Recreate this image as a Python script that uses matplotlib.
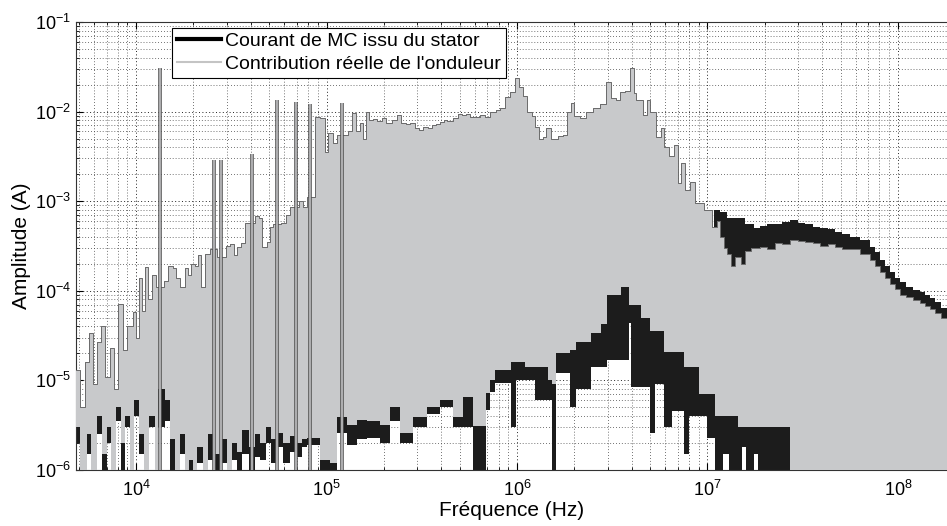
import numpy as np
import matplotlib
matplotlib.use("Agg")
import matplotlib.pyplot as plt
from matplotlib.lines import Line2D
from matplotlib.ticker import LogLocator, NullFormatter

plt.rcParams['font.family'] = ['Liberation Sans', 'DejaVu Sans']

# Upper envelope of the inverter contribution (Hz, A)
f_top = [4.84e3, 5.1e3, 5.4e3, 5.65e3, 5.95e3, 6.25e3, 6.55e3, 6.9e3, 7.3e3, 7.7e3, 8.05e3, 8.5e3, 9.0e3, 9.6e3,
         1.0e4, 1.04e4, 1.08e4, 1.11e4, 1.16e4, 1.21e4, 1.27e4, 1.4e4, 1.48e4, 1.56e4, 1.63e4, 1.7e4, 1.8e4, 1.87e4,
         1.95e4, 2.04e4, 2.12e4, 2.2e4, 2.3e4, 2.45e4, 2.65e4, 2.95e4, 3.1e4, 3.25e4, 3.4e4, 3.55e4, 3.75e4, 4.2e4,
         4.4e4, 4.6e4, 4.85e4, 5.05e4, 5.25e4, 5.8e4, 6.1e4, 6.4e4, 7.2e4, 7.5e4, 7.85e4, 8.7e4, 9.2e4, 9.8e4,
         1.02e5, 1.08e5, 1.13e5, 1.3e5, 1.36e5, 1.43e5, 1.5e5, 1.55e5, 1.61e5, 1.68e5, 1.75e5, 1.85e5, 1.95e5, 2.05e5,
         2.2e5, 2.34e5, 2.45e5, 2.6e5, 2.74e5, 2.9e5, 3.05e5, 3.21e5, 3.4e5, 3.58e5, 3.75e5, 3.94e5, 4.15e5, 4.3e5,
         4.61e5, 4.9e5, 5.14e5, 5.4e5, 5.66e5, 6.0e5, 6.39e5, 6.8e5, 7.2e5, 7.76e5, 8.15e5, 8.65e5, 9.19e5, 9.77e5,
         1.02e6, 1.07e6, 1.13e6, 1.2e6, 1.24e6, 1.3e6, 1.37e6, 1.42e6, 1.5e6, 1.64e6, 1.75e6, 1.83e6, 1.92e6, 2.0e6,
         2.14e6, 2.3e6, 2.51e6, 2.73e6, 2.93e6, 3.1e6, 3.3e6, 3.47e6, 3.69e6, 3.92e6, 4.1e6, 4.22e6, 4.59e6, 4.8e6,
         5.0e6, 5.37e6, 5.7e6, 5.91e6, 6.3e6, 6.7e6, 7.0e6, 7.3e6, 7.6e6, 8.1e6, 8.6e6, 9.14e6, 9.6e6,
         1.0e7, 1.06e7, 1.12e7, 1.16e7, 1.22e7, 1.27e7, 1.33e7, 1.39e7, 1.5e7, 1.57e7, 1.7e7, 1.89e7, 2.05e7, 2.26e7,
         2.45e7, 2.71e7, 3.0e7, 3.25e7, 3.6e7, 3.9e7, 4.3e7, 4.67e7, 5.1e7, 5.6e7, 6.3e7, 7.1e7, 7.6e7, 8.05e7,
         8.6e7, 9.1e7, 9.6e7, 1.02e8, 1.1e8, 1.2e8, 1.3e8, 1.39e8, 1.47e8, 1.56e8, 1.68e8, 1.81e8, 2.0e8]
inv_top = [1.3e-5, 5e-6, 1.6e-5, 3.4e-5, 9e-6, 2.7e-5, 4e-5, 1.1e-5, 2.3e-5, 8e-6, 7.2e-5, 2.2e-5, 4e-5, 5.8e-5,
           3e-5, 1.4e-4, 6e-5, 1.85e-4, 8e-5, 1.5e-4, 1.1e-4, 1.3e-4, 1.9e-4, 1.8e-4, 1.4e-4, 1.1e-4, 1.8e-4, 1.5e-4,
           2e-4, 1.9e-4, 2.5e-4, 1.1e-4, 2.6e-4, 2.9e-4, 2.4e-4, 3.2e-4, 3.3e-4, 2.5e-4, 3.1e-4, 3.4e-4, 5.7e-4, 6.8e-4,
           6.5e-4, 3.1e-4, 3.5e-4, 5.2e-4, 5.5e-4, 5.7e-4, 7e-4, 8.6e-4, 1.0e-3, 8.6e-4, 1.1e-3, 8.7e-3, 8.5e-3, 3.5e-3,
           5.8e-3, 4.5e-3, 5.5e-3, 6e-3, 9.7e-3, 6e-3, 7.5e-3, 5e-3, 1.0e-2, 8e-3, 8.3e-3, 7.8e-3, 8.5e-3, 7.5e-3,
           8e-3, 9.1e-3, 7.5e-3, 7.2e-3, 7.5e-3, 6.6e-3, 6.3e-3, 6.8e-3, 6.5e-3, 7e-3, 7.3e-3, 7.6e-3, 8.0e-3, 7.8e-3,
           8.5e-3, 9.5e-3, 9.2e-3, 9.5e-3, 8.8e-3, 8.6e-3, 9.2e-3, 8.8e-3, 9.8e-3, 1.05e-2, 1.1e-2, 1.45e-2, 1.65e-2, 2.4e-2,
           1.9e-2, 1.5e-2, 1.0e-2, 9e-3, 6.7e-3, 5e-3, 5.2e-3, 6.6e-3, 5.0e-3, 5.3e-3, 5.5e-3, 1.0e-2, 1.25e-2, 9e-3,
           8.5e-3, 1.0e-2, 1.1e-2, 1.2e-2, 2.15e-2, 1.4e-2, 1.35e-2, 1.65e-2, 1.7e-2, 3.1e-2, 1.6e-2, 1.35e-2, 9.2e-3, 1.35e-2,
           1.0e-2, 5.2e-3, 6.6e-3, 4.0e-3, 3.2e-3, 4.2e-3, 1.6e-3, 2.7e-3, 1.35e-3, 1.65e-3, 9.5e-4, 9.5e-4, 8e-4,
           8e-4, 5.2e-4, 6e-4, 4e-4, 3.0e-4, 2.6e-4, 1.9e-4, 2.4e-4, 2.0e-4, 2.8e-4, 3.0e-4, 3.1e-4, 2.9e-4, 3.4e-4,
           3.3e-4, 3.7e-4, 3.6e-4, 3.5e-4, 3.4e-4, 3.2e-4, 3.3e-4, 3.1e-4, 2.9e-4, 2.9e-4, 2.6e-4, 2.2e-4, 1.9e-4, 1.6e-4,
           1.4e-4, 1.2e-4, 1.05e-4, 9e-5, 8.5e-5, 7.9e-5, 7.3e-5, 6.8e-5, 6.2e-5, 5.6e-5, 5e-5, 4.3e-5, 4.3e-5]

# Upper envelope of the stator current where it rises above the inverter part (HF)
f_stator_hf = [1.08e7, 1.16e7, 1.27e7, 1.39e7, 1.57e7, 1.75e7, 1.89e7, 2.05e7, 2.26e7, 2.45e7, 2.71e7, 3.0e7, 3.25e7,
               3.6e7, 3.9e7, 4.3e7, 4.67e7, 5.1e7, 5.6e7, 6.3e7, 7.1e7, 7.6e7, 8.05e7, 8.6e7, 9.1e7, 9.6e7, 1.02e8,
               1.1e8, 1.2e8, 1.3e8, 1.39e8, 1.47e8, 1.56e8, 1.68e8, 1.81e8, 2.0e8]
stator_hf = [8e-4, 7.5e-4, 6.5e-4, 6.5e-4, 5.5e-4, 5.0e-4, 5.3e-4, 5.6e-4, 5.5e-4, 5.9e-4, 6.1e-4, 5.7e-4, 5.6e-4,
             5.2e-4, 5.0e-4, 4.9e-4, 4.5e-4, 4.3e-4, 4.0e-4, 3.7e-4, 3.1e-4, 2.7e-4, 2.2e-4, 1.9e-4, 1.6e-4, 1.4e-4, 1.25e-4,
             1.1e-4, 1.03e-4, 9.6e-5, 9e-5, 8.3e-5, 7.5e-5, 6.5e-5, 5.3e-5, 5.3e-5]

# Lower envelopes (1e-7 = below the axis floor)
f_bot = [4.8e3, 5.1e3, 5.5e3, 5.8e3, 6.2e3, 6.6e3, 7.0e3, 7.4e3, 7.8e3, 8.3e3, 8.8e3, 9.3e3, 9.8e3, 1.04e4,
         1.1e4, 1.17e4, 1.25e4, 1.31e4, 1.42e4, 1.5e4, 1.6e4, 1.7e4, 1.8e4, 1.9e4, 2.0e4, 2.1e4, 2.25e4, 2.4e4,
         2.6e4, 2.8e4, 3.0e4, 3.2e4, 3.4e4, 3.6e4, 3.9e4, 4.2e4, 4.5e4, 4.8e4, 5.1e4, 5.5e4, 5.9e4, 6.4e4,
         6.9e4, 7.4e4, 7.9e4, 9.2e4, 1.04e5, 1.13e5, 1.28e5, 1.45e5, 1.63e5, 1.9e5, 2.16e5, 2.44e5, 2.85e5, 3.38e5,
         3.94e5, 4.61e5, 5.2e5, 5.86e5, 6.9e5, 7.2e5, 7.7e5, 9.3e5, 9.9e5, 1.1e6, 1.25e6, 1.45e6, 1.52e6, 1.6e6,
         1.9e6, 2.04e6, 2.45e6, 2.75e6, 2.96e6, 3.5e6, 3.85e6, 3.95e6, 4.5e6, 5.0e6, 5.3e6, 5.9e6, 6.5e6, 7.5e6,
         8.0e6, 9.0e6, 1.0e7, 1.1e7, 1.2e7, 1.3e7, 1.45e7, 1.52e7, 1.6e7, 1.75e7, 1.85e7, 2.1e7, 2.7e7, 2.0e8]
inv_bot = [3e-6, 1e-7, 2.5e-6, 1e-7, 4e-6, 1.5e-6, 3e-6, 1e-7, 5e-6, 2e-6, 4e-6, 1e-7, 6e-6, 2.5e-6,
           1e-7, 4e-6, 1e-7, 8e-6, 6e-6, 2.2e-6, 1e-7, 2.5e-6, 1e-7, 1.3e-6, 1e-7, 1.8e-6, 1e-7, 2.5e-6,
           1.5e-6, 2.2e-6, 1e-7, 2e-6, 1.6e-6, 2.8e-6, 1.8e-6, 2.5e-6, 2e-6, 3e-6, 2.2e-6, 2.6e-6, 2e-6, 2.4e-6,
           2e-6, 2.2e-6, 2.3e-6, 1.3e-6, 1.2e-6, 3.9e-6, 3.2e-6, 3.6e-6, 3.5e-6, 3.2e-6, 5e-6, 2.6e-6, 3.9e-6, 5e-6,
           6e-6, 3.9e-6, 6.5e-6, 3.1e-6, 7.2e-6, 1.0e-5, 1.3e-5, 1.6e-5, 1.6e-5, 1.4e-5, 1.4e-5, 1.0e-5, 9e-6, 2e-5,
           2.2e-5, 2.7e-5, 3.4e-5, 4.3e-5, 9e-5, 1.1e-4, 7e-5, 7e-5, 5e-5, 3.6e-5, 3.6e-5, 2.1e-5, 2.1e-5, 1.4e-5,
           1.4e-5, 7e-6, 7e-6, 4e-6, 4e-6, 4e-6, 3e-6, 3e-6, 3e-6, 3e-6, 3e-6, 3e-6, 1e-7, 1e-7]
stator_bot = [2e-6, 1e-7, 1.5e-6, 1e-7, 2.5e-6, 1e-7, 2e-6, 1e-7, 3.5e-6, 1e-7, 3e-6, 1e-7, 4e-6, 1.5e-6,
              1e-7, 3e-6, 1e-7, 3e-6, 3.5e-6, 1e-7, 1e-7, 1.5e-6, 1e-7, 1e-7, 1e-7, 1.2e-6, 1e-7, 1.3e-6,
              1e-7, 1.2e-6, 1e-7, 1.3e-6, 1e-7, 1.5e-6, 1e-7, 1.4e-6, 1.3e-6, 2e-6, 1.2e-6, 1.8e-6, 1.2e-6, 1.6e-6,
              1.4e-6, 1.8e-6, 1.9e-6, 1e-7, 1e-7, 2.6e-6, 1.9e-6, 2.2e-6, 2.3e-6, 2.0e-6, 3.5e-6, 2e-6, 3e-6, 4.2e-6,
              5e-6, 3e-6, 3e-6, 1e-7, 4.7e-6, 7.4e-6, 9.3e-6, 3e-6, 1e-5, 1e-5, 6e-6, 6e-6, 1e-7, 1.2e-5,
              5e-6, 8e-6, 1.4e-5, 1.4e-5, 1.7e-5, 1.7e-5, 4.4e-5, 8.5e-6, 8.5e-6, 2.6e-6, 9e-6, 3e-6, 4.5e-6, 1.5e-6,
              4e-6, 4e-6, 2.3e-6, 1e-7, 1.5e-6, 1e-7, 1e-7, 1.8e-6, 1e-7, 1.5e-6, 1e-7, 1e-7, 1e-7, 1e-7]

# Harmonic spikes of the inverter contribution
spike_freq = [1.34e4, 2.57e4, 2.79e4, 4.06e4, 5.5e4, 6.92e4, 8.19e4, 1.21e5]
spike_amp = [3.07e-2, 2.9e-3, 2.9e-3, 3.4e-3, 1.34e-2, 1.27e-2, 1.2e-2, 1.25e-2]

labels = ["Courant de MC issu du stator", "Contribution réelle de l'onduleur"]

gray = '#c8c9cb'
dark = '#1c1c1c'


def steps(f, v):
    # hold each value until the next frequency
    f = np.asarray(f, dtype=float)
    v = np.asarray(v, dtype=float)
    return np.repeat(f, 2)[1:], np.repeat(v, 2)[:-1]


f_top = np.array(f_top)
inv_top = np.array(inv_top)
low = f_top < f_stator_hf[0]
st_f = np.r_[f_top[low], f_stator_hf]
st_v = np.r_[inv_top[low], stator_hf]

fig = plt.figure(figsize=(9.47, 5.26), dpi=100)
ax = fig.add_axes([0.0803, 0.1065, 0.9197, 0.8517])
ax.set_xscale('log')
ax.set_yscale('log')

# stator current (black) behind the inverter part (grey)
xt, yt = steps(st_f, st_v)
xb, yb = steps(f_bot, stator_bot)
ax.fill(np.r_[xt, xb[::-1]], np.r_[yt, yb[::-1]], color=dark, lw=0, zorder=2)

xt, yt = steps(f_top, inv_top)
xb, yb = steps(f_bot, inv_bot)
ax.fill(np.r_[xt, xb[::-1]], np.r_[yt, yb[::-1]], color=gray, lw=0, zorder=3)
ax.plot(xt, yt, color='#6a6a6a', lw=0.7, zorder=4)

ax.vlines(spike_freq, 1e-7, spike_amp, color='#555555', lw=2.6, zorder=5)
ax.vlines(spike_freq, 1e-7, spike_amp, color=gray, lw=1.1, zorder=6)

ax.set_xlim(4.84e3, 1.81e8)
ax.set_ylim(1e-6, 1e-1)
ax.xaxis.set_major_locator(LogLocator(base=10, numticks=12))
ax.xaxis.set_minor_locator(LogLocator(base=10, subs=np.arange(2, 10), numticks=12))
ax.yaxis.set_minor_locator(LogLocator(base=10, subs=np.arange(2, 10), numticks=12))
ax.yaxis.set_minor_formatter(NullFormatter())
ax.xaxis.set_minor_formatter(NullFormatter())

ax.set_axisbelow(True)
ax.grid(True, which='major', linestyle=(0, (1, 2.5)), color='#222222', lw=0.7)
ax.grid(True, which='minor', linestyle=(0, (1, 2.5)), color='#444444', lw=0.6)
ax.tick_params(which='both', direction='in', top=True, right=False, labelsize=13)
ax.tick_params(which='major', length=5)
ax.tick_params(which='minor', length=2.5)
ax.tick_params(axis='x', pad=7)
for s in ['top', 'bottom', 'left']:
    ax.spines[s].set_color('#333333')
ax.spines['right'].set_visible(False)

ax.set_xlabel('Fréquence (Hz)', fontsize=15, labelpad=1)
ax.set_ylabel('Amplitude (A)', fontsize=15, labelpad=3)

handles = [Line2D([], [], color='black', lw=3), Line2D([], [], color='#c4c4c4', lw=1.5)]
leg = ax.legend(handles, labels, loc='upper left', bbox_to_anchor=(0.110, 0.987), borderaxespad=0,
                fancybox=False, framealpha=1, edgecolor='black', fontsize=14, handlelength=2.3,
                handletextpad=0.2, borderpad=0.25, labelspacing=0.25)
leg.get_frame().set_linewidth(0.8)
leg.set_zorder(10)

plt.savefig('out.png', dpi=100)
